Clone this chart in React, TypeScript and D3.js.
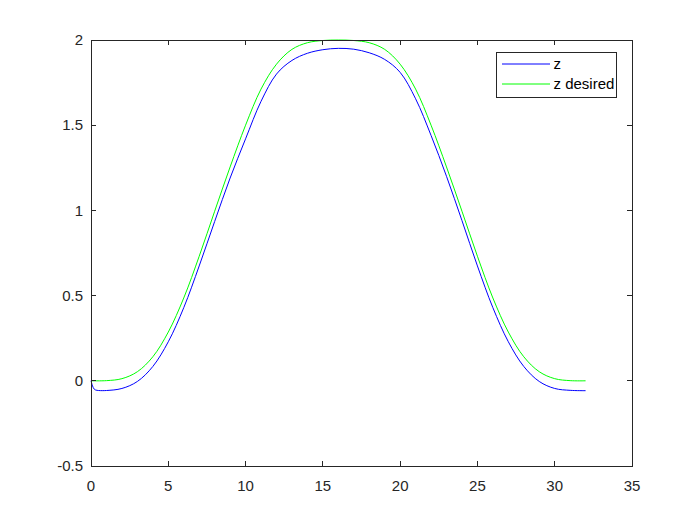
import React from "react";
import * as d3 from "d3";

const tDesired = [0,1,2,3,4,5,6,7,8,9,10,11,12,13,14,15,16,17,18,19,20,21,22,23,24,25,26,27,28,29,30,31,32];
const zDesired = [0,0.0009,0.0125,0.0533,0.141,0.286,0.486,0.731,0.995,1.255,1.500,1.712,1.858,1.945,1.984,1.997,2.0,1.997,1.984,1.945,1.858,1.712,1.500,1.255,0.995,0.731,0.486,0.286,0.141,0.0533,0.0125,0.0009,0];

const tZ = [0,0.1,0.2,0.3,0.5,1,2,3,4,5,6,7,8,9,10,11,12,13,14,15,16,17,18,19,20,21,22,23,24,25,26,27,28,29,30,31,32];
const zActual = [0,-0.03,-0.048,-0.054,-0.057,-0.057,-0.045,-0.004,0.084,0.229,0.429,0.674,0.935,1.190,1.420,1.640,1.800,1.880,1.922,1.943,1.951,1.946,1.925,1.886,1.810,1.655,1.440,1.200,0.940,0.674,0.429,0.229,0.084,-0.004,-0.045,-0.056,-0.058];

const xTicks = [0,5,10,15,20,25,30,35];
const yTicks = [-0.5,0,0.5,1,1.5,2];
const seriesNames = ["z", "z desired"];

const W = 700, H = 525;
const L = 91, R = 632, T = 40, B = 466;

export default function App() {
  const x = d3.scaleLinear().domain([0, 35]).range([L, R]);
  const y = d3.scaleLinear().domain([-0.5, 2]).range([B, T]);
  const line = d3.line<[number, number]>()
    .x(d => x(d[0]))
    .y(d => y(d[1]))
    .curve(d3.curveCatmullRom.alpha(0.5));
  const desiredPts = tDesired.map((t, i) => [t, zDesired[i]] as [number, number]);
  const zPts = tZ.map((t, i) => [t, zActual[i]] as [number, number]);
  const axisColor = "#262626";
  const font = "'Liberation Sans', Arial, sans-serif";
  const tickLen = 5;
  return (
    <svg width={W} height={H} style={{ position: "absolute", left: 0, top: 0, background: "#fff" }}>
      <rect x={0} y={0} width={W} height={H} fill="#fff" />
      <path d={line(zPts) || ""} fill="none" stroke="#0000ff" strokeWidth={1} />
      <path d={line(desiredPts) || ""} fill="none" stroke="#00ff00" strokeWidth={1} />
      <g shapeRendering="crispEdges" stroke={axisColor} strokeWidth={1}>
        <rect x={L} y={T} width={R - L} height={B - T} fill="none" />
        {xTicks.map(v => (
          <g key={"xt" + v}>
            <line x1={x(v)} x2={x(v)} y1={B} y2={B - tickLen} />
            <line x1={x(v)} x2={x(v)} y1={T} y2={T + tickLen} />
          </g>
        ))}
        {yTicks.map(v => (
          <g key={"yt" + v}>
            <line x1={L} x2={L + tickLen} y1={y(v)} y2={y(v)} />
            <line x1={R} x2={R - tickLen} y1={y(v)} y2={y(v)} />
          </g>
        ))}
      </g>
      <g fontFamily={font} fontSize={15} fill={axisColor}>
        {xTicks.map(v => (
          <text key={"xl" + v} x={x(v)} y={B + 25} textAnchor="middle">{String(v)}</text>
        ))}
        {yTicks.map(v => (
          <text key={"yl" + v} x={L - 8} y={y(v)} dy="0.35em" textAnchor="end">{String(v)}</text>
        ))}
      </g>
      <g>
        <rect x={496} y={52} width={120} height={45} fill="#fff" stroke={axisColor} strokeWidth={1} shapeRendering="crispEdges" />
        <line x1={502} x2={550} y1={64} y2={64} stroke="#0000ff" strokeWidth={1} />
        <line x1={502} x2={550} y1={84} y2={84} stroke="#00ff00" strokeWidth={1} />
        <text x={553.5} y={64} dy="0.35em" fontFamily={font} fontSize={15} fill="#000">{seriesNames[0]}</text>
        <text x={553.5} y={84} dy="0.35em" fontFamily={font} fontSize={15} fill="#000">{seriesNames[1]}</text>
      </g>
    </svg>
  );
}
